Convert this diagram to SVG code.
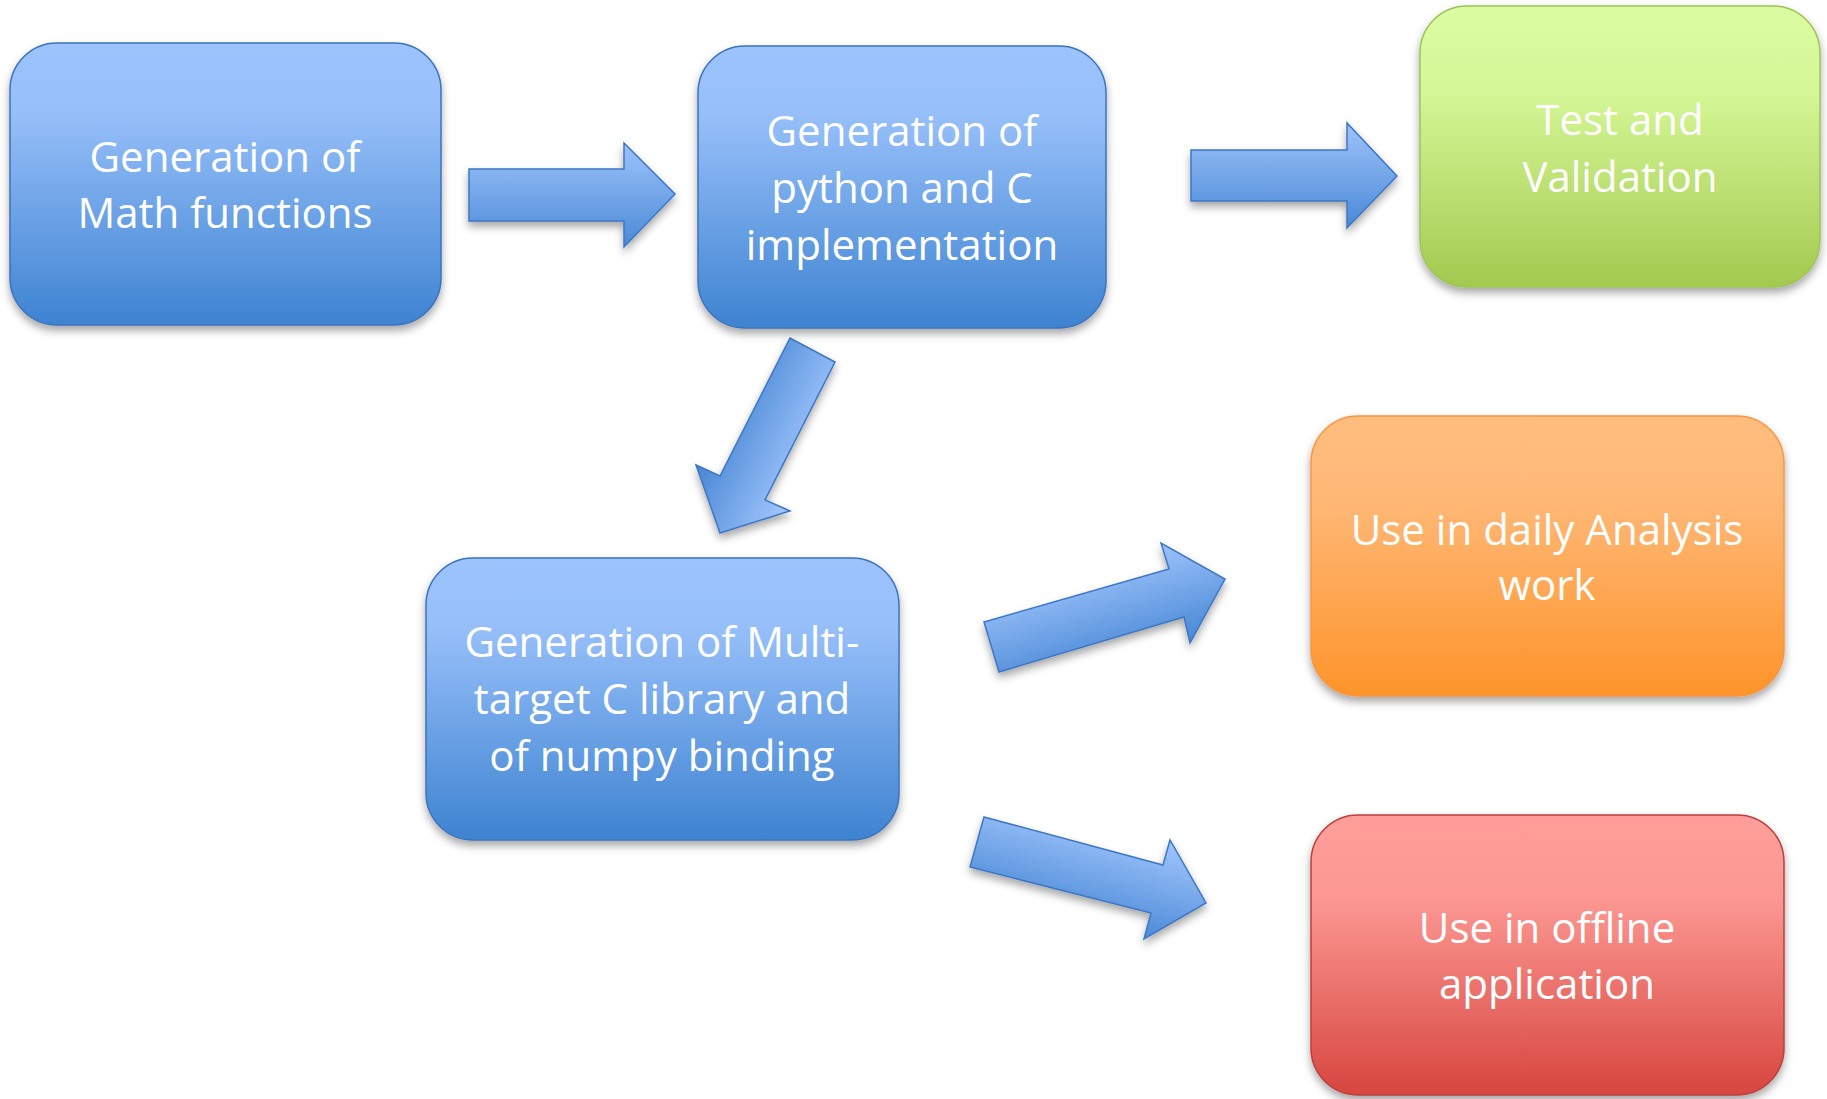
<svg xmlns="http://www.w3.org/2000/svg" width="1827" height="1099" viewBox="0 0 1827 1099">
<style>
  .lbl { font-family: "Open Sans", "Liberation Sans", sans-serif; font-size: 42px; fill: #ffffff; text-anchor: middle; }
  .blue { fill: url(#gBlue); stroke: #3b73bd; stroke-width: 1.5; }
  .green { fill: url(#gGreen); stroke: #9cc457; stroke-width: 1.5; }
  .orange { fill: url(#gOrange); stroke: #f79646; stroke-width: 1.5; }
  .red { fill: url(#gRed); stroke: #b8403c; stroke-width: 1.5; }
  .arr { stroke: #3e77c4; stroke-width: 1.5; stroke-linejoin: miter; }
</style>
<defs>
  <filter id="sh" x="-10%" y="-10%" width="120%" height="130%">
    <feDropShadow dx="0" dy="5" stdDeviation="4" flood-color="#000" flood-opacity="0.35"/>
  </filter>
  <linearGradient id="gBlue" x1="0" y1="0" x2="0" y2="1">
    <stop offset="0" stop-color="#9dc3fd"/>
    <stop offset="0.25" stop-color="#96bff9"/>
    <stop offset="1" stop-color="#3e83d1"/>
  </linearGradient>
  <linearGradient id="gGreen" x1="0" y1="0" x2="0" y2="1">
    <stop offset="0" stop-color="#dbfca1"/>
    <stop offset="0.3" stop-color="#d6f797"/>
    <stop offset="1" stop-color="#a3c94f"/>
  </linearGradient>
  <linearGradient id="gOrange" x1="0" y1="0" x2="0" y2="1">
    <stop offset="0" stop-color="#ffbd7d"/>
    <stop offset="0.3" stop-color="#feb876"/>
    <stop offset="1" stop-color="#fe942a"/>
  </linearGradient>
  <linearGradient id="gRed" x1="0" y1="0" x2="0" y2="1">
    <stop offset="0" stop-color="#ff9e9a"/>
    <stop offset="0.3" stop-color="#fc9792"/>
    <stop offset="1" stop-color="#d7463f"/>
  </linearGradient>
  <linearGradient id="gArrH" x1="0" y1="0" x2="0" y2="1">
    <stop offset="0" stop-color="#9dc3fb"/>
    <stop offset="1" stop-color="#4a89d6"/>
  </linearGradient>
  <linearGradient id="gArrDL" gradientUnits="userSpaceOnUse" x1="722" y1="418" x2="806" y2="458">
    <stop offset="0" stop-color="#4a88d5"/>
    <stop offset="1" stop-color="#9dc3fb"/>
  </linearGradient>
  <linearGradient id="gArrUR" gradientUnits="userSpaceOnUse" x1="1091" y1="564" x2="1119" y2="660">
    <stop offset="0" stop-color="#9dc3fb"/>
    <stop offset="1" stop-color="#4a89d6"/>
  </linearGradient>
  <linearGradient id="gArrDR" gradientUnits="userSpaceOnUse" x1="1103" y1="827" x2="1077" y2="923">
    <stop offset="0" stop-color="#9dc3fb"/>
    <stop offset="1" stop-color="#4a89d6"/>
  </linearGradient>
</defs>
<rect width="1827" height="1099" fill="#ffffff"/>

<g id="connectors">
  <polygon class="arr" filter="url(#sh)" fill="url(#gArrH)" points="469,169 624,169 624,143 675,194 624,247 624,221 469,221"/>
  <polygon class="arr" filter="url(#sh)" fill="url(#gArrH)" points="1191,150 1347,150 1347,123 1397,176 1347,228 1347,201 1191,201"/>
  <polygon class="arr" filter="url(#sh)" fill="url(#gArrDL)" points="835,362 790,338 720,476 696,465 720,533 790,511 765,500"/>
  <polygon class="arr" filter="url(#sh)" fill="url(#gArrUR)" points="999,672 984,622 1169,569 1161,543 1225,579 1190,643 1184,617"/>
  <polygon class="arr" filter="url(#sh)" fill="url(#gArrDR)" points="984,817 1163,865 1170,840 1206,903 1144,939 1151,913 970,867"/>
</g>

<g id="node-math">
  <rect class="blue" filter="url(#sh)" x="10" y="43" width="431" height="282" rx="47" ry="47"/>
  <text class="lbl" x="225" y="172">Generation of</text>
  <text class="lbl" x="225" y="228">Math functions</text>
</g>

<g id="node-impl">
  <rect class="blue" filter="url(#sh)" x="698" y="46" width="408" height="282" rx="47" ry="47"/>
  <text class="lbl" x="902" y="146">Generation of</text>
  <text class="lbl" x="902" y="203">python and C</text>
  <text class="lbl" x="902" y="260">implementation</text>
</g>

<g id="node-test">
  <rect class="green" filter="url(#sh)" x="1420" y="6" width="400" height="281" rx="47" ry="47"/>
  <text class="lbl" x="1620" y="135">Test and</text>
  <text class="lbl" x="1620" y="192">Validation</text>
</g>

<g id="node-lib">
  <rect class="blue" filter="url(#sh)" x="426" y="558" width="473" height="282" rx="47" ry="47"/>
  <text class="lbl" x="662" y="657">Generation of Multi-</text>
  <text class="lbl" x="662" y="714">target C library and</text>
  <text class="lbl" x="662" y="771">of numpy binding</text>
</g>

<g id="node-daily">
  <rect class="orange" filter="url(#sh)" x="1311" y="416" width="473" height="280" rx="47" ry="47"/>
  <text class="lbl" x="1547" y="545">Use in daily Analysis</text>
  <text class="lbl" x="1547" y="600">work</text>
</g>

<g id="node-offline">
  <rect class="red" filter="url(#sh)" x="1311" y="815" width="473" height="280" rx="47" ry="47"/>
  <text class="lbl" x="1547" y="943">Use in offline</text>
  <text class="lbl" x="1547" y="999">application</text>
</g>
</svg>
